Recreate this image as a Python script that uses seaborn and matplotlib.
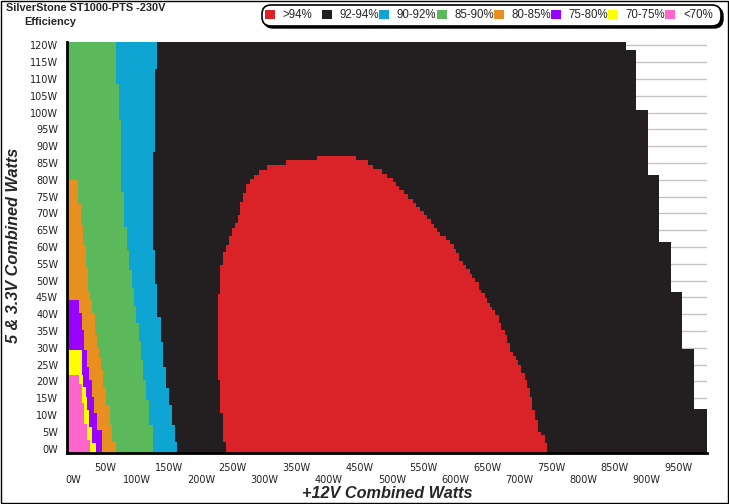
import matplotlib
matplotlib.use('Agg')
import matplotlib.pyplot as plt
import seaborn as sns
from matplotlib.patches import FancyBboxPatch, Rectangle
from matplotlib.transforms import IdentityTransform, ScaledTranslation

sns.set_style('white')

# categories / colours
labels = ['>94%', '92-94%', '90-92%', '85-90%', '80-85%', '75-80%', '70-75%', '<70%']
colors = ['#DA2329', '#231F20', '#0EA5D2', '#5BB95C', '#E8901F', '#9900FF', '#FFFF00', '#FF66CC']

# step edges: y break points (5&3.3V W, top -> bottom) and the +12V W value of each row
black_y = [121, 118.5, 100.9, 81.3, 61.5, 46.5, 29.7, 11.7, -1.25]
black_x = [867, 883, 903, 920, 938, 956, 975, 995]

blue_y = [121, 113.0, 88.2, 59.0, 49.1, 39.2, 31.7, 24.3, 17.9, 12.9, 7.0, 2.0, -1.25]
blue_x = [131.2, 128.5, 124.3, 127.4, 131.2, 136.4, 140.6, 145.8, 150.5, 154.7, 158.8, 162.5]

green_y = [121, 108.6, 97.7, 76.3, 65.9, 59, 53, 47.8, 42.3, 37.4, 31.9, 26.4, 20.5, 14.5, 7.1, -1.25]
green_x = [67, 71, 74, 79, 83.1, 86.7, 92, 94, 98, 102, 105, 109, 114, 119, 124.3]

orange_y = [79.8, 72.9, 66.4, 60.5, 54, 47, 44.1, 40.2, 34.2, 30.3, 26.8, 23.3, 18.4, 12.9, 7.0, 2.0, -1.25]
orange_x = [7.4, 12.1, 15.2, 18.8, 22, 25.5, 29.3, 33.4, 36.1, 39.7, 43.4, 46.6, 50.2, 56.4, 60.7, 65.8]

purple_y = [44.1, 40.2, 35.2, 29.3, 24.3, 20.4, 15.4, 10.5, 5.5, -1.25]
purple_x = [8.3, 12.5, 16.1, 20.4, 24, 28.2, 31.8, 37.1, 43.9]

yellow_y = [29.3, 21.8, 18.4, 15.4, 11.4, 6.4, 1.5, -1.25]
yellow_x = [12.5, 15.2, 18.8, 21.5, 24, 28.2, 34.5]

pink_y = [21.8, 19.3, 13.4, 7.4, 2.5, -1.25]
pink_x = [8.3, 12.5, 16.1, 20.4, 25]

red_right_y = [87.04, 85.76, 84.27, 83.09, 81.81, 80.62, 79.31, 78.12, 76.84, 75.65, 74.38,
               73.19, 71.88, 70.69, 69.41, 68.22, 66.94, 65.76, 64.45, 63.26, 61.98, 60.79,
               59.51, 58.32, 55.83, 54.55, 53.36, 52.08, 50.89, 49.58, 47.12, 46.14, 44.65,
               43.34, 42.15, 41.17, 39.68, 37.40, 35.23, 33.74, 31.27, 28.78, 27.50, 26.31,
               24.82, 22.35, 20.36, 17.90, 15.40, 11.44, 8.47, 4.99, 4.01, 1.55, -1.25]
red_right_x = [443.6, 461.9, 469.7, 483.9, 492.6, 501.1, 505.8, 511, 518.8, 525.5, 532.4,
               537.6, 543.9, 550.2, 555.3, 560.7, 565.8, 571, 575.2, 585.7, 592, 597.2,
               601.4, 605, 611.8, 617.1, 622.3, 626.5, 631.2, 636.8, 640.6, 645.8, 649.4,
               653.6, 657.8, 662.5, 667.7, 671.9, 677.1, 680.7, 684.9, 690.1, 694.4, 698,
               703.3, 708.5, 712.7, 716.3, 720.5, 725.2, 729.3, 734.6, 739.8, 744]
red_left_y = [87.04, 85.76, 84.27, 83.0, 81.5, 80.3, 78.8, 76.0, 73.4, 69.4, 67.1, 65.7,
              63.3, 60.7, 58.5, 54.5, 45.9, 20.4, 10.5, 1.8, -1.25]
red_left_x = [382.9, 333.9, 303.6, 290.4, 283.7, 277.4, 271, 266, 261.8, 258.6, 254, 249.2,
              244.5, 239.8, 235.1, 230.4, 227.3, 230.4, 235.1, 239.8]

X0 = -10.5
W, H = 729, 504

fig = plt.figure(figsize=(W / 100, H / 100), dpi=100)
ax = fig.add_axes([67 / W, (H - 452.7) / H, 640 / W, 410.7 / H])


def step_edge(ys, xs):
    vx, vy = [], []
    for i, x in enumerate(xs):
        vx += [x, x]
        vy += [ys[i], ys[i + 1]]
    return vx, vy


def band(ys, xs, color):
    ex, ey = step_edge(ys, xs)
    ax.fill([X0] + ex + [X0], [ys[0]] + ey + [ys[-1]], color=color, lw=0, zorder=2)


band(black_y, black_x, colors[1])
band(blue_y, blue_x, colors[2])
band(green_y, green_x, colors[3])
band(orange_y, orange_x, colors[4])
band(purple_y, purple_x, colors[5])
band(yellow_y, yellow_x, colors[6])
band(pink_y, pink_x, colors[7])

rx, ry = step_edge(red_right_y, red_right_x)
lx, ly = step_edge(red_left_y, red_left_x)
ax.fill(rx + lx[::-1], ry + ly[::-1], color=colors[0], lw=0, zorder=3)

ax.set_xlim(X0, 995)
ax.set_ylim(-1.25, 121)

for s in ['top', 'right']:
    ax.spines[s].set_visible(False)
for s in ['left', 'bottom']:
    ax.spines[s].set_linewidth(2)
    ax.spines[s].set_color('black')
    ax.spines[s].set_zorder(5)

yt = list(range(0, 121, 5))
ax.set_yticks(yt)
ax.set_yticklabels([f'{v}W' for v in yt])
ax.set_yticks(range(0, 121), minor=True)
xt = list(range(0, 951, 50))
ax.set_xticks(xt)
ax.set_xticklabels([f'{v}W' for v in xt])
ax.set_xticks(range(0, 991, 10), minor=True)

ax.yaxis.grid(True, color='#c4c4c4', lw=1)
ax.set_axisbelow(True)

ax.tick_params(axis='both', which='both', direction='out', labelsize=7)
ax.tick_params(axis='y', which='major', length=5, width=1, color='#555555', pad=1.5)
ax.tick_params(axis='y', which='minor', length=2, width=0.8, color='black')
ax.tick_params(axis='x', which='major', length=5, width=1, color='#888888', pad=2.5)
ax.tick_params(axis='x', which='minor', length=3, width=1, color='black')
for lab in ax.get_xticklabels() + ax.get_yticklabels():
    lab.set_fontfamily('DejaVu Sans')
    lab.set_color('#222222')
shift = ScaledTranslation(0, -0.115, fig.dpi_scale_trans)
for v, lab in zip(xt, ax.get_xticklabels()):
    if v % 100 == 0:
        lab.set_transform(lab.get_transform() + shift)

fig.text(387 / W, 1 - 493 / H, '+12V Combined Watts', ha='center', va='center',
         fontsize=11.7, fontweight='bold', fontstyle='italic', family='Liberation Sans')
fig.text(14 / W, 1 - 245 / H, '5 & 3.3V Combined Watts', ha='center', va='center',
         rotation=90, fontsize=11.7, fontweight='bold', fontstyle='italic', family='Liberation Sans')
fig.text(6 / W, 1 - 3 / H, 'SilverStone ST1000-PTS -230V', ha='left', va='top',
         fontsize=7.9, fontweight='bold', family='Liberation Sans')
fig.text(24 / W, 1 - 17 / H, 'Efficiency', ha='left', va='top',
         fontsize=7.9, fontweight='bold', family='Liberation Sans')

# legend box drawn in pixel coordinates
px = IdentityTransform()
fig.patches.append(FancyBboxPatch((264, H - 28), 459, 21, boxstyle='round,pad=0,rounding_size=9',
                                  transform=px, fc='black', ec='black', lw=1, zorder=1))
fig.patches.append(FancyBboxPatch((262, H - 26), 459, 21, boxstyle='round,pad=0,rounding_size=9',
                                  transform=px, fc='white', ec='black', lw=1.2, zorder=2))
for i, (lab, c) in enumerate(zip(labels, colors)):
    x = 265 + i * 57.2
    fig.patches.append(Rectangle((x, H - 19), 10, 9, transform=px, fc=c, ec='none', zorder=3))
    fig.text((x + 17.5) / W, 1 - 14.5 / H, lab, ha='left', va='center', fontsize=8.3,
             family='Liberation Sans', zorder=4)

fig.patches.append(Rectangle((0.5, 1.5), W - 1.5, H - 2, transform=px, fill=False,
                             ec='black', lw=1, zorder=0))

fig.savefig('out.png', dpi=100)
